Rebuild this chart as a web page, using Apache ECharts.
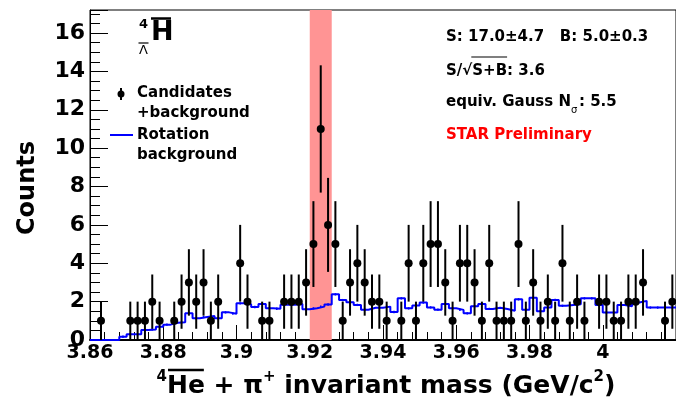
<!DOCTYPE html>
<html><head><meta charset="utf-8">
<script src="https://cdn.jsdelivr.net/npm/echarts@6/dist/echarts.min.js"></script>
<style>html,body{margin:0;padding:0;background:#fff;overflow:hidden}#chart{width:676px;height:400px}</style>
</head><body><div id="chart"></div>
<script>
// ---- data ----
const xMin = 3.86, xMax = 4.02, binWidth = 0.002;   // histogram binning (GeV/c^2)
const yMax = 17.2;
const xTickLabels = ['3.86','3.88','3.9','3.92','3.94','3.96','3.98','4'];
const counts = [0,1,0,0,0,1,1,1,2,1,
                0,1,2,3,2,3,1,2,0,0,
                4,2,0,1,1,0,2,2,2,3,
                5,11,6,5,1,3,4,3,2,2,
                1,0,1,4,1,4,5,5,3,1,
                4,4,3,1,4,1,1,1,5,1,
                3,1,2,1,4,1,2,1,0,2,
                2,1,1,2,2,3,0,0,1,2];
const rotationBg = [0,0,0,0,0.17,0.3,0.3,0.52,0.55,0.69,
                    0.8,0.9,0.92,1.39,1.13,1.2,1.25,1.13,1.44,1.37,
                    1.91,1.86,1.72,1.88,1.65,1.63,1.84,1.84,1.88,1.6,
                    1.65,1.74,1.85,2.38,2.08,1.97,1.83,1.58,1.68,1.68,
                    1.74,1.46,2.17,1.65,1.8,1.95,1.7,1.58,1.87,1.65,
                    1.57,1.39,1.76,1.88,1.62,1.68,1.62,1.52,2.12,1.58,
                    2.2,1.5,1.7,2.09,1.78,1.83,1.86,2.17,2.17,1.82,
                    1.43,1.43,1.82,1.76,1.95,2.04,1.69,1.69,1.69,1.69];
const rotationBgErr = 0.06;
const signalWindow = [3.920, 3.926];
const statsLine1 = 'S: 17.0\u00b14.7   B: 5.0\u00b10.3';
const statsLine2 = ['S/\u221a', 'S+B', ': 3.6'];
const statsLine3 = ['equiv. Gauss N', '\u03c3', ': 5.5'];
const prelimText = 'STAR Preliminary';
const legendNames = [['Candidates', '+background'], ['Rotation', 'background']];

// ---- derived ----
const binCenters = counts.map((_, i) => +(xMin + binWidth * (i + 0.5)).toFixed(4));
const pointData = counts.map((c, i) => [binCenters[i], c]).filter(d => d[1] > 0);
const bgStepData = rotationBg.map((v, i) => [+(xMin + binWidth * i).toFixed(4), v]);
bgStepData.push([xMax, rotationBg[rotationBg.length - 1]]);
const bgTickData = rotationBg.map((v, i) => [binCenters[i], v]).filter(d => d[1] > 0);

const FONT = '"DejaVu Sans", "Liberation Sans", sans-serif';
const mctx = document.createElement('canvas').getContext('2d');
function tw(t, size, weight) { mctx.font = (weight || 'bold') + ' ' + size + 'px ' + FONT; return mctx.measureText(t).width; }

const chart = echarts.init(document.getElementById('chart'), null, {renderer: 'canvas'});

const graphics = [];
function txt(x, y, text, size, opts) {
  graphics.push({type: 'text', x: x, y: y, z: 100,
    style: Object.assign({text: text, fill: '#000', font: 'bold ' + size + 'px ' + FONT,
      textVerticalAlign: 'middle', textAlign: 'left'}, opts || {})});
}
function seg(x1, y1, x2, y2, color, w) {
  graphics.push({type: 'line', z: 100, shape: {x1, y1, x2, y2}, style: {stroke: color, lineWidth: w}});
}

// title  4/Lambda anti-H
txt(139, 25, '4', 13);
txt(139, 51, '\u039b', 13, {font: '13px ' + FONT});
seg(138.5, 43, 148.5, 43, '#000', 1.2);
txt(151, 33, 'H', 27);
seg(151, 18.5, 171, 18.5, '#000', 2.5);

// legend
seg(121, 88, 121, 100, '#000', 2);
graphics.push({type: 'circle', z: 100, shape: {cx: 121, cy: 94, r: 3.5}, style: {fill: '#000'}});
txt(137, 93, legendNames[0][0], 15);
txt(137, 113, legendNames[0][1], 15);
seg(110, 135, 133, 135, '#0000ff', 2);
txt(137, 135, legendNames[1][0], 15);
txt(137, 155, legendNames[1][1], 15);

// stats box
const sx = 446;
txt(sx, 37, statsLine1, 15);
txt(sx, 71, statsLine2.join(''), 15);
const w0 = tw(statsLine2[0], 15), w1 = tw(statsLine2[1], 15);
seg(sx + w0 - 1, 57, sx + w0 + w1, 57, '#000', 1.2);
txt(sx, 102, statsLine3[0], 15);
const w3 = tw(statsLine3[0], 15);
txt(sx + w3, 110, statsLine3[1], 10, {font: '10px ' + FONT});
txt(sx + w3 + 8, 102, statsLine3[2], 15);
txt(sx, 135, prelimText, 15, {fill: '#ff0000'});

// x axis title
(function () {
  const big = 25, small = 15;
  const parts = [
    {t: '4', s: small, dy: -9},
    {t: 'He', s: big, dy: 0, over: true},
    {t: ' + \u03c0', s: big, dy: 0},
    {t: '+', s: small, dy: -9},
    {t: ' invariant mass (GeV/c', s: big, dy: 0},
    {t: '2', s: small, dy: -9},
    {t: ')', s: big, dy: 0}
  ];
  let total = 0; parts.forEach(p => { p.w = tw(p.t, p.s); total += p.w; });
  let x = 386 - total / 2;
  const y = 386;
  parts.forEach(p => {
    txt(x, y + p.dy, p.t, p.s);
    if (p.over) seg(x + 1, 370, x + p.w - 1, 370, '#000', 2.5);
    x += p.w;
  });
})();

// y axis title
graphics.push({type: 'text', x: 28, y: 188, rotation: Math.PI / 2, z: 100,
  style: {text: 'Counts', fill: '#000', font: 'bold 24px ' + FONT, textAlign: 'center', textVerticalAlign: 'middle'}});

const option = {
  animation: false,
  backgroundColor: '#fff',
  grid: {left: 90, right: -5, top: 10, bottom: 60, show: true, borderColor: '#000', borderWidth: 1, backgroundColor: 'transparent'},
  xAxis: {
    type: 'value', min: xMin, max: xMax, interval: 0.02,
    axisLine: {lineStyle: {color: '#000', width: 2}},
    axisTick: {inside: true, length: 15, lineStyle: {color: '#000', width: 1}},
    minorTick: {show: true, splitNumber: 5, length: 8, lineStyle: {color: '#000', width: 1}},
    splitLine: {show: false},
    axisLabel: {color: '#000', fontFamily: FONT, fontWeight: 'bold', fontSize: 19, margin: 4, showMaxLabel: false,
      formatter: v => { const i = Math.round((v - xMin) / 0.02); return xTickLabels[i] || ''; }}
  },
  yAxis: {
    type: 'value', min: 0, max: yMax, interval: 2,
    axisLine: {show: true, lineStyle: {color: '#000', width: 1}},
    axisTick: {inside: true, length: 18, lineStyle: {color: '#000', width: 1}},
    minorTick: {show: true, splitNumber: 4, length: 10, lineStyle: {color: '#000', width: 1}},
    splitLine: {show: false},
    axisLabel: {color: '#000', fontFamily: FONT, fontWeight: 'bold', fontSize: 22, margin: 5, showMaxLabel: false}
  },
  series: [
    {
      type: 'custom', name: 'signal window', z: 1, silent: true,
      data: [signalWindow],
      encode: {x: [0, 1]},
      renderItem: (params, api) => {
        const p0 = api.coord([api.value(0), yMax]);
        const p1 = api.coord([api.value(1), 0]);
        return {type: 'rect', shape: {x: p0[0], y: p0[1], width: p1[0] - p0[0], height: p1[1] - p0[1]}, style: {fill: '#ff9494'}};
      }
    },
    {
      type: 'line', name: 'Rotation background', z: 3, step: 'end', showSymbol: false, symbol: 'none',
      data: bgStepData, lineStyle: {color: '#0000ff', width: 2}
    },
    {
      type: 'custom', name: 'bg err', z: 3, silent: true, data: bgTickData,
      renderItem: (params, api) => {
        const x = api.value(0), v = api.value(1);
        const a = api.coord([x, v - rotationBgErr]), b = api.coord([x, v + rotationBgErr]);
        return {type: 'line', shape: {x1: a[0], y1: a[1], x2: b[0], y2: b[1]}, style: {stroke: '#0000ff', lineWidth: 1.5}};
      }
    },
    {
      type: 'custom', name: 'errors', z: 4, silent: true, data: pointData,
      renderItem: (params, api) => {
        const x = api.value(0), v = api.value(1), e = Math.sqrt(v);
        const a = api.coord([x, v - e]), b = api.coord([x, v + e]);
        return {type: 'line', shape: {x1: a[0], y1: a[1], x2: b[0], y2: b[1]}, style: {stroke: '#000', lineWidth: 2}};
      }
    },
    {
      type: 'scatter', name: 'Candidates', z: 5, data: pointData, symbol: 'circle', symbolSize: 8,
      itemStyle: {color: '#000', opacity: 1}
    }
  ],
  graphic: graphics
};
chart.setOption(option);
</script>
</body></html>
